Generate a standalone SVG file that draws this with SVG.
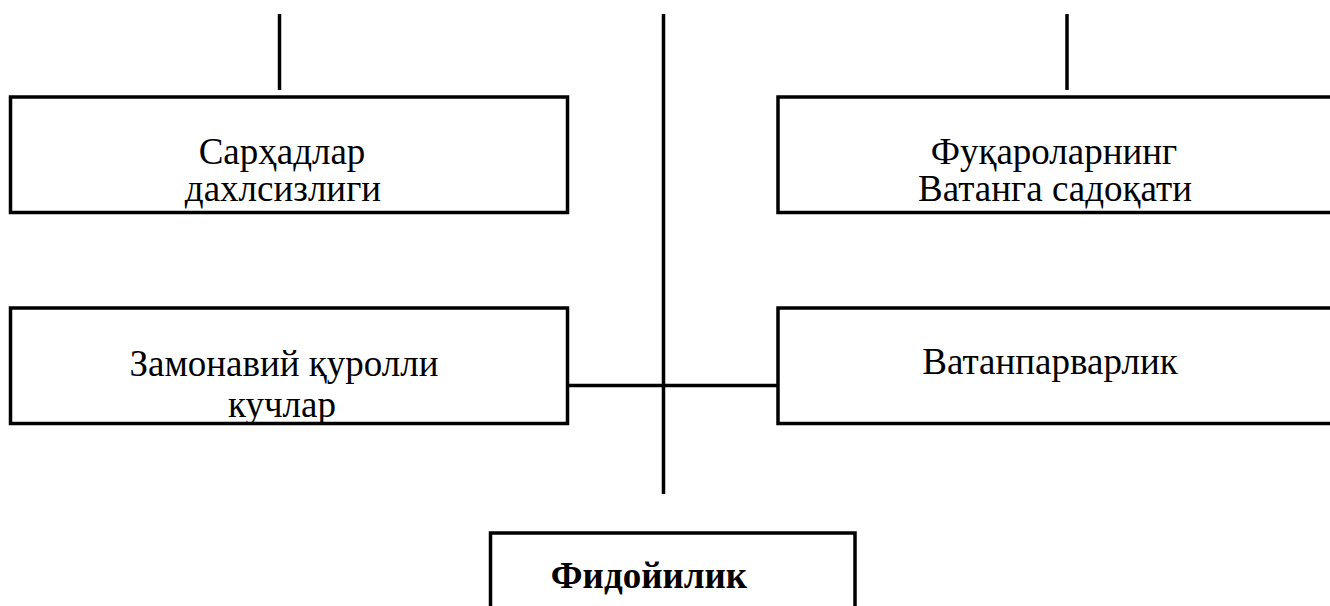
<svg xmlns="http://www.w3.org/2000/svg" width="1330" height="606" viewBox="0 0 1330 606">
<style>
.box{fill:#fff;stroke:#000;stroke-width:3.5}
.ln{stroke:#000;stroke-width:3.5;fill:none}
.t{font-family:"Liberation Serif","Times New Roman",serif;font-size:37px;fill:#000;text-anchor:middle}
.b{font-weight:bold}
</style>
<rect width="1330" height="606" fill="#fff"/>
<g id="connectors">
<line class="ln" x1="279.5" y1="14" x2="279.5" y2="90"/>
<line class="ln" x1="1067" y1="14" x2="1067" y2="90"/>
<line class="ln" x1="663.5" y1="14" x2="663.5" y2="494"/>
<line class="ln" x1="567.5" y1="385.5" x2="778" y2="385.5"/>
</g>
<g id="node-sarhad">
<rect class="box" x="10.5" y="97" width="557" height="115.5"/>
<text class="t" x="282" y="164">Сарҳадлар</text>
<text class="t" x="283" y="201">дахлсизлиги</text>
</g>
<g id="node-fuqarolar">
<rect class="box" x="778" y="97" width="600" height="115.5"/>
<text class="t" x="1054" y="164">Фуқароларнинг</text>
<text class="t" x="1055" y="201">Ватанга садоқати</text>
</g>
<g id="node-qurolli">
<rect class="box" x="10.5" y="308" width="557" height="115.5"/>
<text class="t" x="284" y="376">Замонавий қуролли</text>
<text class="t" x="282" y="417">кучлар</text>
</g>
<g id="node-vatanparvarlik">
<rect class="box" x="778" y="308" width="600" height="115.5"/>
<text class="t" x="1050" y="374">Ватанпарварлик</text>
</g>
<g id="node-fidoyilik">
<rect class="box" x="490.5" y="533" width="364.5" height="90"/>
<text class="t b" x="649" y="588">Фидойилик</text>
</g>
</svg>
